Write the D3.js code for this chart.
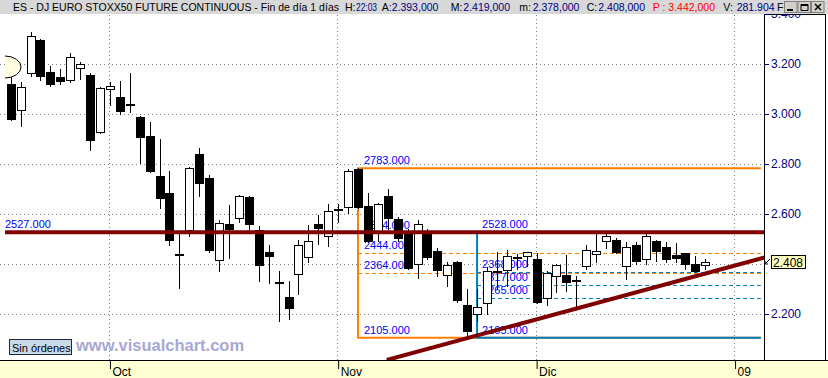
<!DOCTYPE html>
<html>
<head>
<meta charset="utf-8">
<script src="https://cdn.jsdelivr.net/npm/d3@7/dist/d3.min.js"></script>
<style>
	body { margin: 0; background: #fff; }
	svg { display: block; font-family: 'Liberation Sans', Arial, sans-serif; }
</style>
</head>
<body>
<svg id="chart" width="828" height="378"></svg>
<script>

// daily candles, one per session, mid Sep 2008 to end of Dec 2008
var openPx = [ 3120, 3011, 3159, 3296, 3168, 3148, 3133, 3179, 3156, 2925,
	3095, 3068, 3038, 2988, 2911, 2752, 2684, 2440, 2531, 2840,
	2744, 2411, 2560, 2579, 2668, 2536, 2448, 2319, 2267, 2355,
	2424, 2560, 2509, 2619, 2623, 2780, 2632, 2528, 2672, 2579,
	2528, 2395, 2523, 2452, 2353, 2407, 2236, 2195, 2239, 2374,
	2373, 2427, 2427, 2420, 2259, 2347, 2356, 2327, 2387, 2436,
	2489, 2496, 2387, 2476, 2416, 2492, 2467, 2436, 2445, 2400, 2393 ];
var highPx = [ 3148, 3128, 3328, 3300, 3192, 3180, 3245, 3208, 3163, 3107,
	3127, 3132, 3165, 2992, 2968, 2900, 2772, 2520, 2789, 2865,
	2757, 2576, 2636, 2676, 2673, 2552, 2476, 2372, 2332, 2496,
	2556, 2596, 2640, 2640, 2779, 2783, 2685, 2645, 2699, 2588,
	2539, 2576, 2539, 2463, 2409, 2413, 2300, 2300, 2389, 2449,
	2456, 2440, 2449, 2443, 2373, 2400, 2436, 2352, 2476, 2523,
	2525, 2503, 2489, 2489, 2525, 2496, 2489, 2483, 2445, 2432, 2419 ];
var lowPx = [ 2972, 2947, 3149, 3133, 3109, 3117, 3125, 3136, 2853, 2920,
	3032, 2996, 3005, 2800, 2763, 2621, 2472, 2301, 2509, 2669,
	2445, 2369, 2419, 2565, 2536, 2329, 2319, 2169, 2176, 2275,
	2405, 2477, 2469, 2565, 2600, 2620, 2484, 2489, 2536, 2489,
	2376, 2339, 2416, 2349, 2307, 2245, 2105, 2170, 2196, 2296,
	2309, 2376, 2387, 2239, 2232, 2285, 2289, 2223, 2376, 2403,
	2459, 2440, 2336, 2396, 2396, 2409, 2403, 2403, 2376, 2363, 2378 ];
var closePx = [ 2976, 3107, 3312, 3147, 3117, 3128, 3227, 3200, 2893, 3103,
	3111, 3009, 3034, 2903, 2769, 2661, 2493, 2438, 2783, 2721,
	2453, 2564, 2536, 2672, 2557, 2393, 2427, 2327, 2221, 2475,
	2491, 2541, 2612, 2615, 2773, 2624, 2489, 2640, 2579, 2499,
	2381, 2559, 2425, 2371, 2397, 2253, 2128, 2227, 2373, 2370,
	2433, 2420, 2447, 2245, 2363, 2396, 2323, 2336, 2456, 2452,
	2512, 2445, 2467, 2409, 2512, 2449, 2416, 2419, 2396, 2369, 2408 ];

// first session of each month (by candle index)
var monthIdx = [ 10, 33, 53, 73 ];
var monthLabels = [ 'Oct', 'Nov', 'Dic', '09' ];
// 2.400 sits under the last price flag, so it is left out
var priceTicks = [ 3400, 3200, 3000, 2800, 2600, 2200 ];
var gridPrices = [ 3200, 3000, 2800, 2600, 2400, 2200 ];

// drawn objects: support line, two retracement boxes and a rising trendline
var supportLevel = 2527;
var orangeSpan = [ 35, 75.6 ];
var orangeLevels = [ 2783, 2524, 2444, 2364, 2105 ];
var blueSpan = [ 47, 75.6 ];
var blueLevels = [ 2528, 2368, 2317, 2265, 2105 ];
var trendIdx = [ 37.9, 76.5 ];
var trendPx = [ 2016, 2432 ];
var lastPx = 2408;

var headerTitle = 'ES - DJ EURO STOXX50 FUTURE CONTINUOUS - Fin de día 1 días';
var headerKeys = [ 'H:', 'A:', 'M:', 'm:', 'C:', 'P :', 'V:', 'F' ];
var headerVals = [ '22:03', '2.393,000', '2.419,000', '2.378,000', '2.408,000', '3.442,000', '281.904', '' ];

function CandleChart( _sel ) {

	var svg = d3.select( _sel ),
		plotW = 764,
		plotTop = 15,
		plotBottom = 360,
		navy = '#000080',
		dred = '#800000',
		orange = '#FF8000',
		blue = '#0080C0',
		labelBlue = '#0000FF';

	// TODO - header slots are placed by hand to match the bitmap font spacing
	var keyX = [ 345, 381.7, 450.7, 519.3, 586.7, 652.7, 723.3, 777 ],
		valX = [ 356, 391.7, 463.3, 532.7, 598.3, 668.3, 736.7, 0 ];

	var x = d3.scaleLinear().domain( [ 0, 70 ] ).range( [ 10.7, 705.3 ] );
	var y = d3.scaleLinear().domain( [ 2016, 3400 ] ).range( [ plotBottom, 14 ] );

	var fmtAxis = function( _d ) {
		return d3.format( '.3f' )( _d / 1000 );
	};
	var fmtLabel = d3.format( '.3f' );

	svg.append( 'defs' ).append( 'clipPath' ).attr( 'id', 'plotClip' )
		.append( 'rect' ).attr( 'x', 0 ).attr( 'y', plotTop ).attr( 'width', plotW ).attr( 'height', plotBottom - plotTop );

	// bottom date strip
	svg.append( 'rect' ).attr( 'x', 0 ).attr( 'y', plotBottom ).attr( 'width', 828 ).attr( 'height', 378 - plotBottom )
		.attr( 'fill', '#FFFFD4' );

	var plot = svg.append( 'g' ).attr( 'clip-path', 'url(#plotClip)' );

	// dotted grid
	plot.selectAll( 'line.hgrid' ).data( gridPrices ).enter().append( 'line' )
		.attr( 'class', 'hgrid' )
		.attr( 'x1', 0 ).attr( 'x2', plotW )
		.attr( 'y1', function( _d ) { return Math.round( y( _d ) ) + 0.5; } )
		.attr( 'y2', function( _d ) { return Math.round( y( _d ) ) + 0.5; } )
		.attr( 'stroke', '#808080' ).attr( 'stroke-dasharray', '1,3' );

	plot.selectAll( 'line.vgrid' ).data( monthIdx ).enter().append( 'line' )
		.attr( 'class', 'vgrid' )
		.attr( 'x1', function( _d ) { return Math.round( x( _d ) ) - 0.5; } )
		.attr( 'x2', function( _d ) { return Math.round( x( _d ) ) - 0.5; } )
		.attr( 'y1', plotTop ).attr( 'y2', plotBottom )
		.attr( 'stroke', '#808080' ).attr( 'stroke-dasharray', '1,3' );

	// retracement boxes (orange from the Nov high, blue from the Nov low)
	function fibBox( _span, _levels, _color, _labelDx ) {
		var x0 = x( _span[ 0 ] ),
			x1 = x( _span[ 1 ] ),
			top = y( _levels[ 0 ] ),
			bot = y( _levels[ _levels.length - 1 ] );
		var g = plot.append( 'g' );
		g.append( 'path' )
			.attr( 'd', 'M' + x1 + ',' + top + 'H' + x0 + 'V' + bot + 'H' + x1 )
			.attr( 'fill', 'none' ).attr( 'stroke', _color ).attr( 'stroke-width', 2 );
		g.selectAll( 'line' ).data( _levels.slice( 1, _levels.length - 1 ) ).enter().append( 'line' )
			.attr( 'x1', x0 ).attr( 'x2', x1 )
			.attr( 'y1', function( _d ) { return Math.round( y( _d ) ) + 0.5; } )
			.attr( 'y2', function( _d ) { return Math.round( y( _d ) ) + 0.5; } )
			.attr( 'stroke', _color ).attr( 'stroke-dasharray', '4,3' );
		g.selectAll( 'text' ).data( _levels ).enter().append( 'text' )
			.attr( 'x', x0 + _labelDx )
			.attr( 'y', function( _d ) { return y( _d ) - 4; } )
			.attr( 'font-size', 11 ).attr( 'fill', labelBlue )
			.text( function( _d ) { return fmtLabel( _d ); } );
	}
	fibBox( orangeSpan, orangeLevels, orange, 6 );
	fibBox( blueSpan, blueLevels, blue, 5 );

	// candles
	var idx = d3.range( openPx.length );
	var candle = plot.selectAll( 'g.candle' ).data( idx ).enter().append( 'g' ).attr( 'class', 'candle' );

	candle.append( 'line' )
		.attr( 'x1', function( _i ) { return Math.round( x( _i ) ) + 0.5; } )
		.attr( 'x2', function( _i ) { return Math.round( x( _i ) ) + 0.5; } )
		.attr( 'y1', function( _i ) { return Math.round( y( highPx[ _i ] ) ); } )
		.attr( 'y2', function( _i ) { return Math.round( y( lowPx[ _i ] ) ); } )
		.attr( 'stroke', '#000' );

	candle.append( 'rect' )
		.each( function( _i ) {
			var up = closePx[ _i ] >= openPx[ _i ],
				cx = Math.round( x( _i ) ),
				t = Math.round( y( Math.max( openPx[ _i ], closePx[ _i ] ) ) ),
				b = Math.round( y( Math.min( openPx[ _i ], closePx[ _i ] ) ) );
			if ( b - t < 2 ) b = t + 2;
			var r = d3.select( this );
			if ( up ) {
				r.attr( 'x', cx - 3.5 ).attr( 'width', 8 )
					.attr( 'y', t + 0.5 ).attr( 'height', b - t - 1 )
					.attr( 'fill', '#fff' ).attr( 'stroke', '#000' );
			} else {
				r.attr( 'x', cx - 4 ).attr( 'width', 9 )
					.attr( 'y', t ).attr( 'height', b - t )
					.attr( 'fill', '#000' );
			}
		} );

	// support line and trendline
	plot.append( 'line' )
		.attr( 'x1', 5 ).attr( 'x2', plotW )
		.attr( 'y1', y( supportLevel ) ).attr( 'y2', y( supportLevel ) )
		.attr( 'stroke', dred ).attr( 'stroke-width', 4 );
	plot.append( 'text' )
		.attr( 'x', 5 ).attr( 'y', y( supportLevel ) - 4 )
		.attr( 'font-size', 11 ).attr( 'fill', labelBlue )
		.text( fmtLabel( supportLevel ) );

	plot.append( 'line' )
		.attr( 'x1', x( trendIdx[ 0 ] ) ).attr( 'y1', y( trendPx[ 0 ] ) )
		.attr( 'x2', x( trendIdx[ 1 ] ) ).attr( 'y2', y( trendPx[ 1 ] ) )
		.attr( 'stroke', dred ).attr( 'stroke-width', 4 );

	// scroll marker at the left edge
	plot.append( 'path' )
		.attr( 'd', 'M5,56 A16,11 0 0 1 5,78' )
		.attr( 'fill', '#FFFDE2' ).attr( 'stroke', '#000' );

	// order box and watermark
	svg.append( 'rect' ).attr( 'x', 9.5 ).attr( 'y', 339.5 ).attr( 'width', 62 ).attr( 'height', 15 )
		.attr( 'fill', '#C8DAEA' ).attr( 'stroke', '#1E2A3A' );
	svg.append( 'text' ).attr( 'x', 12 ).attr( 'y', 351.5 ).attr( 'font-size', 11 ).attr( 'fill', '#000' )
		.text( 'Sin órdenes' );
	svg.append( 'text' ).attr( 'x', 76 ).attr( 'y', 350.5 )
		.attr( 'font-size', 16.5 ).attr( 'font-weight', 'bold' ).attr( 'fill', '#A6A8D2' )
		.text( 'www.visualchart.com' );

	// right price panel
	svg.append( 'rect' ).attr( 'x', plotW + 0.5 ).attr( 'y', plotTop - 0.5 ).attr( 'width', 61 ).attr( 'height', plotBottom - plotTop + 1 )
		.attr( 'fill', '#fff' ).attr( 'stroke', '#000' );

	var yAxis = svg.append( 'g' )
		.attr( 'transform', 'translate(' + plotW + ',0)' )
		.call( d3.axisRight( y ).tickValues( priceTicks ).tickSize( 5 ).tickPadding( 2 ).tickFormat( fmtAxis ) );
	yAxis.select( '.domain' ).remove();
	yAxis.selectAll( '.tick line' ).attr( 'stroke', navy );
	yAxis.selectAll( '.tick text' ).attr( 'fill', navy ).attr( 'font-size', 12 )
		.attr( 'font-family', "'Liberation Sans', Arial, sans-serif" );

	// last price flag
	var ly = Math.round( y( lastPx ) );
	svg.append( 'rect' ).attr( 'x', 771.5 ).attr( 'y', ly - 6.5 ).attr( 'width', 34 ).attr( 'height', 13 )
		.attr( 'fill', '#FFFFC0' ).attr( 'stroke', '#000' );
	svg.append( 'text' ).attr( 'x', 773 ).attr( 'y', ly + 4.5 ).attr( 'font-size', 12 ).attr( 'fill', '#000' )
		.text( fmtAxis( lastPx ) );
	svg.append( 'path' )
		.attr( 'd', 'M770,' + ( ly - 3 ) + 'L765,' + ( ly + 2 ) + 'M765,' + ( ly - 1 ) + 'V' + ( ly + 2 ) + 'H768' )
		.attr( 'fill', 'none' ).attr( 'stroke', '#000' );

	// date axis
	svg.append( 'line' ).attr( 'x1', 0 ).attr( 'x2', 828 ).attr( 'y1', plotBottom + 0.5 ).attr( 'y2', plotBottom + 0.5 )
		.attr( 'stroke', '#000' );
	var xAxis = svg.append( 'g' )
		.attr( 'transform', 'translate(0,' + plotBottom + ')' )
		.call( d3.axisBottom( x ).tickValues( monthIdx ).tickSize( 9 )
			.tickFormat( function( _d, _i ) { return monthLabels[ _i ]; } ) );
	xAxis.select( '.domain' ).remove();
	xAxis.selectAll( '.tick line' ).attr( 'stroke', '#000' );
	xAxis.selectAll( '.tick text' )
		.attr( 'text-anchor', 'start' ).attr( 'x', 2 ).attr( 'y', 7 )
		.attr( 'fill', '#000' ).attr( 'font-size', 12 )
		.attr( 'font-family', "'Liberation Sans', Arial, sans-serif" );

	// window title bar
	svg.append( 'rect' ).attr( 'x', 0 ).attr( 'y', 0 ).attr( 'width', 828 ).attr( 'height', plotTop - 1 )
		.attr( 'fill', '#D8D8D8' );
	var head = svg.append( 'g' ).attr( 'font-size', 10.5 );
	head.append( 'text' ).attr( 'x', 13 ).attr( 'y', 11 ).attr( 'fill', '#000' ).text( headerTitle );
	headerKeys.forEach( function( _k, _i ) {
		var isP = _k === 'P :';
		head.append( 'text' ).attr( 'x', keyX[ _i ] ).attr( 'y', 11 )
			.attr( 'fill', isP ? '#FF0000' : '#000' ).text( _k );
		if ( headerVals[ _i ] ) {
			var t = head.append( 'text' ).attr( 'x', valX[ _i ] ).attr( 'y', 11 )
				.attr( 'fill', isP ? '#FF0000' : navy ).text( headerVals[ _i ] );
			// the time field is tighter in the original
			if ( _i === 0 ) t.attr( 'textLength', 21 ).attr( 'lengthAdjust', 'spacingAndGlyphs' );
		}
	} );

	// minimise / maximise / close buttons
	var btn = svg.selectAll( 'g.btn' ).data( [ 0, 1, 2 ] ).enter().append( 'g' ).attr( 'class', 'btn' )
		.attr( 'transform', function( _d ) { return 'translate(' + ( 784 + _d * 13.5 ) + ',1)'; } );
	btn.append( 'rect' ).attr( 'x', 0.5 ).attr( 'y', 0.5 ).attr( 'width', 12.5 ).attr( 'height', 11 )
		.attr( 'fill', '#D4D0C8' ).attr( 'stroke', '#808080' );
	btn.filter( function( _d ) { return _d === 0; } ).append( 'rect' )
		.attr( 'x', 3 ).attr( 'y', 8 ).attr( 'width', 6 ).attr( 'height', 2 ).attr( 'fill', '#000' );
	btn.filter( function( _d ) { return _d === 1; } ).append( 'path' )
		.attr( 'd', 'M3.5,3.5h7v6h-7z M3.5,4.5h7' ).attr( 'fill', 'none' ).attr( 'stroke', '#000' );
	btn.filter( function( _d ) { return _d === 2; } ).append( 'path' )
		.attr( 'd', 'M4,3L10,9M10,3L4,9' ).attr( 'fill', 'none' ).attr( 'stroke', '#000' ).attr( 'stroke-width', 1.5 );
}

CandleChart( '#chart' );
</script>
</body>
</html>
